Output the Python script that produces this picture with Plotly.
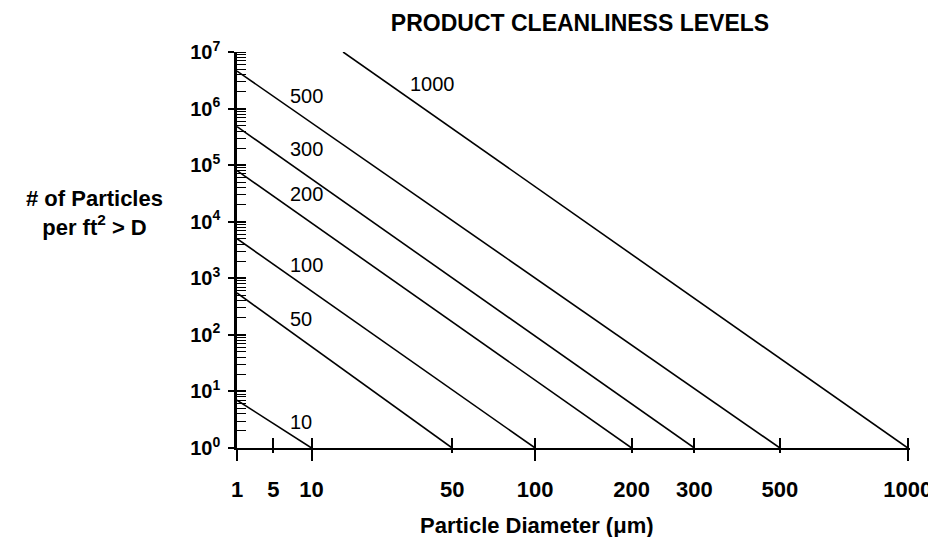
import numpy as np
import plotly.graph_objects as go

# ---- data ----
levels = [10, 50, 100, 200, 300, 500, 1000]
start_diameter_um = [1, 1, 1, 1, 1, 1, 15.6]
start_count = [7, 550, 5000, 8.0e4, 4.8e5, 4.6e6, 1.0e7]
end_diameter_um = [10, 50, 100, 200, 300, 500, 1000]
end_count = [1, 1, 1, 1, 1, 1, 1]

x_tick_values = [1, 5, 10, 50, 100, 200, 300, 500, 1000]
x_tick_labels = ["1", "5", "10", "50", "100", "200", "300", "500", "1000"]
x_long_ticks = [1, 10, 100, 1000]
y_tick_exponents = [0, 1, 2, 3, 4, 5, 6, 7]

# label placement (axis units: x in log10(D)^2, y in log10(N))
label_x = [0.69, 0.69, 0.69, 0.69, 0.69, 0.69, 2.30]
label_y = [0.46, 2.28, 3.235, 4.49, 5.285, 6.222, 6.435]


def sq_log(d):
    """Particle-diameter scale of the chart: (log10 D)^2."""
    return np.log10(np.asarray(d, dtype=float)) ** 2


FONT = "Liberation Sans, Arial, sans-serif"
XR = [0, 9.03]
YR = [0, 7]

fig = go.Figure()
for lv, sd, sc, ed, ec in zip(levels, start_diameter_um, start_count,
                              end_diameter_um, end_count):
    fig.add_trace(go.Scatter(
        x=sq_log([sd, ed]), y=[sc, ec], mode="lines",
        line=dict(color="black", width=1.6),
        showlegend=False, hoverinfo="skip", name=str(lv)))

# empty traces so overlay axes are drawn
fig.add_trace(go.Scatter(x=[], y=[], xaxis="x2", yaxis="y", showlegend=False))
fig.add_trace(go.Scatter(x=[], y=[], xaxis="x3", yaxis="y", showlegend=False))
fig.add_trace(go.Scatter(x=[], y=[], xaxis="x", yaxis="y2", showlegend=False))

tickfont_x = dict(family=FONT, size=22, color="black", weight="bold")
tickfont_y = dict(family=FONT, size=20, color="black", weight="bold")

fig.update_layout(
    width=936, height=537,
    margin=dict(l=229, r=29, t=44, b=97),
    paper_bgcolor="white", plot_bgcolor="white",
    showlegend=False,
    title=dict(text="PRODUCT CLEANLINESS LEVELS", xref="container",
               x=572 / 936, xanchor="center", yref="container",
               y=1 - 15 / 537, yanchor="middle",
               font=dict(family=FONT, size=23, color="black", weight="bold")),
    xaxis=dict(range=XR, tickmode="array", tickvals=sq_log(x_tick_values),
               ticktext=x_tick_labels, ticks="outside", ticklen=3,
               tickwidth=1.5, tickcolor="black", showline=True,
               linecolor="black", linewidth=2, showgrid=False,
               zeroline=False, tickfont=tickfont_x, ticklabelstandoff=18),
    xaxis2=dict(range=XR, overlaying="x", anchor="y", side="bottom",
                tickmode="array", tickvals=sq_log(x_long_ticks),
                ticks="outside", ticklen=12, tickwidth=1.5,
                tickcolor="black", showticklabels=False, showline=False,
                showgrid=False, zeroline=False),
    xaxis3=dict(range=XR, overlaying="x", anchor="y", side="bottom",
                tickmode="array", tickvals=sq_log(x_tick_values),
                ticks="inside", ticklen=10, tickwidth=1.5,
                tickcolor="black", showticklabels=False, showline=False,
                showgrid=False, zeroline=False),
    yaxis=dict(type="log", range=YR, tickmode="array",
               tickvals=[10 ** e for e in y_tick_exponents],
               ticktext=[f"10<sup>{e}</sup>" for e in y_tick_exponents],
               ticks="outside", ticklen=6, tickwidth=1.5, tickcolor="black",
               showline=True, linecolor="black", linewidth=2.5,
               showgrid=False, zeroline=False, tickfont=tickfont_y,
               ticklabelstandoff=4,
               minor=dict(ticks="inside", ticklen=9, tickwidth=1.3,
                          tickcolor="black", dtick="D1", showgrid=False)),
    yaxis2=dict(type="log", range=YR, overlaying="y", anchor="x",
                side="left", tickmode="array",
                tickvals=[10 ** e for e in y_tick_exponents],
                ticks="inside", ticklen=9, tickwidth=1.5, tickcolor="black",
                showticklabels=False, showline=False, showgrid=False,
                zeroline=False),
)

for lv, lx, ly in zip(levels, label_x, label_y):
    fig.add_annotation(x=lx, y=ly, xref="x", yref="y", text=str(lv),
                       showarrow=False, xanchor="left", yanchor="middle",
                       font=dict(family=FONT, size=20, color="black"))

fig.add_annotation(x=(85 - 229) / 678, y=(440 - 205) / 396, xref="paper",
                   yref="paper", showarrow=False, xanchor="center",
                   yanchor="middle", align="center",
                   text="# of Particles<br>per ft<sup>2</sup> &gt; D",
                   font=dict(family=FONT, size=22, color="black",
                             weight="bold"))
fig.add_annotation(x=(531 - 229) / 678, y=(440 - 517) / 396, xref="paper",
                   yref="paper", showarrow=False, xanchor="center",
                   yanchor="middle", borderpad=0,
                   text="Particle Diameter (\u03bcm)",
                   font=dict(family=FONT, size=22, color="black",
                             weight="bold"))

fig.write_html("out.html")
